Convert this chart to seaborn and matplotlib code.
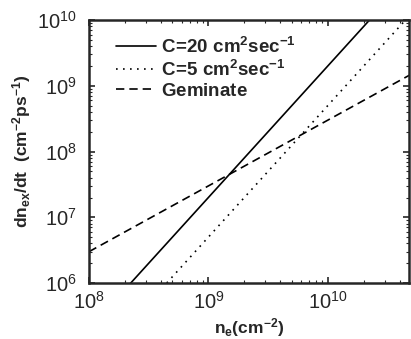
import numpy as np
import pandas as pd
import matplotlib
matplotlib.use("Agg")
import matplotlib.pyplot as plt
import seaborn as sns
from matplotlib.ticker import LogLocator, NullFormatter

# Data
ne = [1e8, 2e8, 5e8, 1e9, 2e9, 5e9, 1e10, 2e10, 5e10]
c20 = [2e-11 * v * v for v in ne]      # C=20 cm^2 s^-1
c5 = [5e-12 * v * v for v in ne]       # C=5 cm^2 s^-1
gem = [0.03 * v for v in ne]           # Geminate

labels = [r"$\mathbf{C\!=\!20\ cm^{2}sec^{-1}}$",
          r"$\mathbf{C\!=\!5\ cm^{2}sec^{-1}}$",
          r"$\mathbf{Geminate}$"]

sns.set_style("ticks")
plt.rcParams["font.family"] = ["Liberation Sans", "DejaVu Sans"]
plt.rcParams["mathtext.fontset"] = "custom"
plt.rcParams["mathtext.rm"] = "Liberation Sans"
plt.rcParams["mathtext.bf"] = "Liberation Sans:bold"
plt.rcParams["mathtext.it"] = "Liberation Sans:italic"

df = pd.DataFrame({
    "ne": ne * 3,
    "rate": c20 + c5 + gem,
    "series": [labels[0]] * len(ne) + [labels[1]] * len(ne) + [labels[2]] * len(ne),
})

fig = plt.figure(figsize=(4.11, 3.39), dpi=100)
ax = fig.add_axes([0.2165, 0.165, 0.779, 0.776])

styles = {labels[0]: "-", labels[1]: (0, (1, 3.2)), labels[2]: (0, (5, 3))}
for lab in labels:
    sub = df[df["series"] == lab]
    sns.lineplot(data=sub, x="ne", y="rate", ax=ax, color="black", lw=1.2,
                 linestyle=styles[lab], label=lab)

ax.set_xscale("log")
ax.set_yscale("log")
ax.set_xlim(1e8, 4.8e10)
ax.set_ylim(1e6, 1e10)

ax.xaxis.set_major_locator(LogLocator(base=10, numticks=10))
ax.yaxis.set_major_locator(LogLocator(base=10, numticks=10))
ax.xaxis.set_minor_locator(LogLocator(base=10, subs=np.arange(2, 10), numticks=20))
ax.yaxis.set_minor_locator(LogLocator(base=10, subs=np.arange(2, 10), numticks=20))
ax.xaxis.set_minor_formatter(NullFormatter())
ax.yaxis.set_minor_formatter(NullFormatter())

ax.tick_params(which="both", direction="in", top=True, right=True)
ax.tick_params(which="major", length=4, width=1.2, labelsize=14.5)
ax.tick_params(axis="x", which="major", pad=6)
ax.tick_params(axis="y", which="major", pad=9)
ax.tick_params(which="minor", length=2, width=0.8)
for s in ax.spines.values():
    s.set_linewidth(1.8)

ax.set_xlabel(r"$\mathbf{n_{e}(cm^{-2})}$", fontsize=12.5, labelpad=2)
ax.set_ylabel(r"$\mathbf{dn_{ex}/dt\ \ (cm^{-2}ps^{-1})}$", fontsize=12.5, labelpad=3)

leg = ax.legend(loc="upper left", bbox_to_anchor=(0.031, 1.0), frameon=False,
                fontsize=13.5, handlelength=2.15, handletextpad=0.25,
                labelspacing=0.15, borderaxespad=0.5)

fig.savefig("out.png", dpi=100)
